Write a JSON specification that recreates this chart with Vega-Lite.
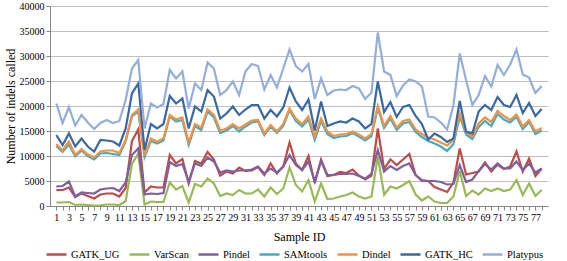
{
"$schema": "https://vega.github.io/schema/vega-lite/v6.json",
"width": 498, "height": 200,
"autosize": {"type": "none"},
"padding": {"left": 50, "top": 6, "right": 19, "bottom": 55},
"background": "white",
"config": {"font": "Liberation Serif, DejaVu Serif, serif", "view": {"stroke": null}},
"data": {"values": [
{"id":1,"tool":"GATK_UG","count":3200},{"id":2,"tool":"GATK_UG","count":3200},{"id":3,"tool":"GATK_UG","count":3700},{"id":4,"tool":"GATK_UG","count":1800},{"id":5,"tool":"GATK_UG","count":2500},{"id":6,"tool":"GATK_UG","count":2000},{"id":7,"tool":"GATK_UG","count":1500},{"id":8,"tool":"GATK_UG","count":2300},{"id":9,"tool":"GATK_UG","count":2500},{"id":10,"tool":"GATK_UG","count":2500},
{"id":11,"tool":"GATK_UG","count":1900},{"id":12,"tool":"GATK_UG","count":3600},{"id":13,"tool":"GATK_UG","count":13000},{"id":14,"tool":"GATK_UG","count":15300},{"id":15,"tool":"GATK_UG","count":2700},{"id":16,"tool":"GATK_UG","count":3900},{"id":17,"tool":"GATK_UG","count":3700},{"id":18,"tool":"GATK_UG","count":3700},{"id":19,"tool":"GATK_UG","count":10200},{"id":20,"tool":"GATK_UG","count":8500},
{"id":21,"tool":"GATK_UG","count":9400},{"id":22,"tool":"GATK_UG","count":4500},{"id":23,"tool":"GATK_UG","count":9000},{"id":24,"tool":"GATK_UG","count":8500},{"id":25,"tool":"GATK_UG","count":10800},{"id":26,"tool":"GATK_UG","count":9300},{"id":27,"tool":"GATK_UG","count":6100},{"id":28,"tool":"GATK_UG","count":6900},{"id":29,"tool":"GATK_UG","count":6500},{"id":30,"tool":"GATK_UG","count":7700},
{"id":31,"tool":"GATK_UG","count":7000},{"id":32,"tool":"GATK_UG","count":7100},{"id":33,"tool":"GATK_UG","count":7800},{"id":34,"tool":"GATK_UG","count":6200},{"id":35,"tool":"GATK_UG","count":8500},{"id":36,"tool":"GATK_UG","count":6500},{"id":37,"tool":"GATK_UG","count":7900},{"id":38,"tool":"GATK_UG","count":12700},{"id":39,"tool":"GATK_UG","count":8500},{"id":40,"tool":"GATK_UG","count":7200},
{"id":41,"tool":"GATK_UG","count":10000},{"id":42,"tool":"GATK_UG","count":4600},{"id":43,"tool":"GATK_UG","count":9300},{"id":44,"tool":"GATK_UG","count":6000},{"id":45,"tool":"GATK_UG","count":6200},{"id":46,"tool":"GATK_UG","count":6800},{"id":47,"tool":"GATK_UG","count":6600},{"id":48,"tool":"GATK_UG","count":7300},{"id":49,"tool":"GATK_UG","count":6100},{"id":50,"tool":"GATK_UG","count":5300},
{"id":51,"tool":"GATK_UG","count":6100},{"id":52,"tool":"GATK_UG","count":15500},{"id":53,"tool":"GATK_UG","count":7400},{"id":54,"tool":"GATK_UG","count":9300},{"id":55,"tool":"GATK_UG","count":8200},{"id":56,"tool":"GATK_UG","count":9300},{"id":57,"tool":"GATK_UG","count":10400},{"id":58,"tool":"GATK_UG","count":6200},{"id":59,"tool":"GATK_UG","count":5000},{"id":60,"tool":"GATK_UG","count":5000},
{"id":61,"tool":"GATK_UG","count":3800},{"id":62,"tool":"GATK_UG","count":3300},{"id":63,"tool":"GATK_UG","count":2800},{"id":64,"tool":"GATK_UG","count":4700},{"id":65,"tool":"GATK_UG","count":11500},{"id":66,"tool":"GATK_UG","count":6300},{"id":67,"tool":"GATK_UG","count":6600},{"id":68,"tool":"GATK_UG","count":6900},{"id":69,"tool":"GATK_UG","count":8700},{"id":70,"tool":"GATK_UG","count":6900},
{"id":71,"tool":"GATK_UG","count":8300},{"id":72,"tool":"GATK_UG","count":7400},{"id":73,"tool":"GATK_UG","count":7900},{"id":74,"tool":"GATK_UG","count":10900},{"id":75,"tool":"GATK_UG","count":6900},{"id":76,"tool":"GATK_UG","count":9500},{"id":77,"tool":"GATK_UG","count":6000},{"id":78,"tool":"GATK_UG","count":7500},
{"id":1,"tool":"VarScan","count":700},{"id":2,"tool":"VarScan","count":700},{"id":3,"tool":"VarScan","count":800},{"id":4,"tool":"VarScan","count":200},{"id":5,"tool":"VarScan","count":300},{"id":6,"tool":"VarScan","count":200},{"id":7,"tool":"VarScan","count":100},{"id":8,"tool":"VarScan","count":150},{"id":9,"tool":"VarScan","count":300},{"id":10,"tool":"VarScan","count":300},
{"id":11,"tool":"VarScan","count":200},{"id":12,"tool":"VarScan","count":1000},{"id":13,"tool":"VarScan","count":8400},{"id":14,"tool":"VarScan","count":10500},{"id":15,"tool":"VarScan","count":300},{"id":16,"tool":"VarScan","count":900},{"id":17,"tool":"VarScan","count":800},{"id":18,"tool":"VarScan","count":800},{"id":19,"tool":"VarScan","count":4700},{"id":20,"tool":"VarScan","count":3300},
{"id":21,"tool":"VarScan","count":4000},{"id":22,"tool":"VarScan","count":700},{"id":23,"tool":"VarScan","count":4400},{"id":24,"tool":"VarScan","count":3900},{"id":25,"tool":"VarScan","count":5500},{"id":26,"tool":"VarScan","count":4500},{"id":27,"tool":"VarScan","count":2000},{"id":28,"tool":"VarScan","count":2500},{"id":29,"tool":"VarScan","count":2200},{"id":30,"tool":"VarScan","count":3200},
{"id":31,"tool":"VarScan","count":2500},{"id":32,"tool":"VarScan","count":2500},{"id":33,"tool":"VarScan","count":3300},{"id":34,"tool":"VarScan","count":1900},{"id":35,"tool":"VarScan","count":3700},{"id":36,"tool":"VarScan","count":2400},{"id":37,"tool":"VarScan","count":3500},{"id":38,"tool":"VarScan","count":7700},{"id":39,"tool":"VarScan","count":4200},{"id":40,"tool":"VarScan","count":2900},
{"id":41,"tool":"VarScan","count":5200},{"id":42,"tool":"VarScan","count":900},{"id":43,"tool":"VarScan","count":4500},{"id":44,"tool":"VarScan","count":1400},{"id":45,"tool":"VarScan","count":1500},{"id":46,"tool":"VarScan","count":1900},{"id":47,"tool":"VarScan","count":2200},{"id":48,"tool":"VarScan","count":2700},{"id":49,"tool":"VarScan","count":1900},{"id":50,"tool":"VarScan","count":1500},
{"id":51,"tool":"VarScan","count":1900},{"id":52,"tool":"VarScan","count":9900},{"id":53,"tool":"VarScan","count":2300},{"id":54,"tool":"VarScan","count":3900},{"id":55,"tool":"VarScan","count":3500},{"id":56,"tool":"VarScan","count":4200},{"id":57,"tool":"VarScan","count":5000},{"id":58,"tool":"VarScan","count":2300},{"id":59,"tool":"VarScan","count":1100},{"id":60,"tool":"VarScan","count":1900},
{"id":61,"tool":"VarScan","count":900},{"id":62,"tool":"VarScan","count":600},{"id":63,"tool":"VarScan","count":600},{"id":64,"tool":"VarScan","count":1900},{"id":65,"tool":"VarScan","count":7000},{"id":66,"tool":"VarScan","count":2000},{"id":67,"tool":"VarScan","count":3100},{"id":68,"tool":"VarScan","count":2300},{"id":69,"tool":"VarScan","count":3500},{"id":70,"tool":"VarScan","count":3000},
{"id":71,"tool":"VarScan","count":3500},{"id":72,"tool":"VarScan","count":3000},{"id":73,"tool":"VarScan","count":3300},{"id":74,"tool":"VarScan","count":5200},{"id":75,"tool":"VarScan","count":2200},{"id":76,"tool":"VarScan","count":4500},{"id":77,"tool":"VarScan","count":2000},{"id":78,"tool":"VarScan","count":3200},
{"id":1,"tool":"Pindel","count":3900},{"id":2,"tool":"Pindel","count":4000},{"id":3,"tool":"Pindel","count":4900},{"id":4,"tool":"Pindel","count":1900},{"id":5,"tool":"Pindel","count":2700},{"id":6,"tool":"Pindel","count":2600},{"id":7,"tool":"Pindel","count":2500},{"id":8,"tool":"Pindel","count":3300},{"id":9,"tool":"Pindel","count":3500},{"id":10,"tool":"Pindel","count":3600},
{"id":11,"tool":"Pindel","count":3000},{"id":12,"tool":"Pindel","count":4700},{"id":13,"tool":"Pindel","count":10200},{"id":14,"tool":"Pindel","count":11500},{"id":15,"tool":"Pindel","count":2300},{"id":16,"tool":"Pindel","count":2500},{"id":17,"tool":"Pindel","count":2400},{"id":18,"tool":"Pindel","count":2600},{"id":19,"tool":"Pindel","count":8800},{"id":20,"tool":"Pindel","count":8000},
{"id":21,"tool":"Pindel","count":8400},{"id":22,"tool":"Pindel","count":4900},{"id":23,"tool":"Pindel","count":8500},{"id":24,"tool":"Pindel","count":8000},{"id":25,"tool":"Pindel","count":9700},{"id":26,"tool":"Pindel","count":8900},{"id":27,"tool":"Pindel","count":6700},{"id":28,"tool":"Pindel","count":7100},{"id":29,"tool":"Pindel","count":6900},{"id":30,"tool":"Pindel","count":7100},
{"id":31,"tool":"Pindel","count":7100},{"id":32,"tool":"Pindel","count":7300},{"id":33,"tool":"Pindel","count":7900},{"id":34,"tool":"Pindel","count":6500},{"id":35,"tool":"Pindel","count":7500},{"id":36,"tool":"Pindel","count":6700},{"id":37,"tool":"Pindel","count":7900},{"id":38,"tool":"Pindel","count":10200},{"id":39,"tool":"Pindel","count":8200},{"id":40,"tool":"Pindel","count":7200},
{"id":41,"tool":"Pindel","count":8900},{"id":42,"tool":"Pindel","count":4900},{"id":43,"tool":"Pindel","count":9000},{"id":44,"tool":"Pindel","count":6200},{"id":45,"tool":"Pindel","count":6200},{"id":46,"tool":"Pindel","count":6400},{"id":47,"tool":"Pindel","count":6400},{"id":48,"tool":"Pindel","count":6500},{"id":49,"tool":"Pindel","count":6000},{"id":50,"tool":"Pindel","count":5500},
{"id":51,"tool":"Pindel","count":6500},{"id":52,"tool":"Pindel","count":11200},{"id":53,"tool":"Pindel","count":6900},{"id":54,"tool":"Pindel","count":8000},{"id":55,"tool":"Pindel","count":7200},{"id":56,"tool":"Pindel","count":8000},{"id":57,"tool":"Pindel","count":8500},{"id":58,"tool":"Pindel","count":6200},{"id":59,"tool":"Pindel","count":5200},{"id":60,"tool":"Pindel","count":5000},
{"id":61,"tool":"Pindel","count":5000},{"id":62,"tool":"Pindel","count":4800},{"id":63,"tool":"Pindel","count":4300},{"id":64,"tool":"Pindel","count":4400},{"id":65,"tool":"Pindel","count":8200},{"id":66,"tool":"Pindel","count":4800},{"id":67,"tool":"Pindel","count":5300},{"id":68,"tool":"Pindel","count":7000},{"id":69,"tool":"Pindel","count":8400},{"id":70,"tool":"Pindel","count":7300},
{"id":71,"tool":"Pindel","count":8500},{"id":72,"tool":"Pindel","count":7500},{"id":73,"tool":"Pindel","count":7500},{"id":74,"tool":"Pindel","count":8900},{"id":75,"tool":"Pindel","count":7200},{"id":76,"tool":"Pindel","count":8500},{"id":77,"tool":"Pindel","count":6700},{"id":78,"tool":"Pindel","count":7500},
{"id":1,"tool":"SAMtools","count":12000},{"id":2,"tool":"SAMtools","count":10800},{"id":3,"tool":"SAMtools","count":12300},{"id":4,"tool":"SAMtools","count":9900},{"id":5,"tool":"SAMtools","count":11100},{"id":6,"tool":"SAMtools","count":10000},{"id":7,"tool":"SAMtools","count":9300},{"id":8,"tool":"SAMtools","count":10500},{"id":9,"tool":"SAMtools","count":10600},{"id":10,"tool":"SAMtools","count":10400},
{"id":11,"tool":"SAMtools","count":10200},{"id":12,"tool":"SAMtools","count":12900},{"id":13,"tool":"SAMtools","count":17900},{"id":14,"tool":"SAMtools","count":18900},{"id":15,"tool":"SAMtools","count":9800},{"id":16,"tool":"SAMtools","count":13000},{"id":17,"tool":"SAMtools","count":12500},{"id":18,"tool":"SAMtools","count":13100},{"id":19,"tool":"SAMtools","count":17900},{"id":20,"tool":"SAMtools","count":16900},
{"id":21,"tool":"SAMtools","count":17200},{"id":22,"tool":"SAMtools","count":12200},{"id":23,"tool":"SAMtools","count":16000},{"id":24,"tool":"SAMtools","count":15200},{"id":25,"tool":"SAMtools","count":18900},{"id":26,"tool":"SAMtools","count":17700},{"id":27,"tool":"SAMtools","count":14600},{"id":28,"tool":"SAMtools","count":15100},{"id":29,"tool":"SAMtools","count":16000},{"id":30,"tool":"SAMtools","count":14900},
{"id":31,"tool":"SAMtools","count":15900},{"id":32,"tool":"SAMtools","count":16700},{"id":33,"tool":"SAMtools","count":16900},{"id":34,"tool":"SAMtools","count":14200},{"id":35,"tool":"SAMtools","count":15900},{"id":36,"tool":"SAMtools","count":14600},{"id":37,"tool":"SAMtools","count":16000},{"id":38,"tool":"SAMtools","count":19200},{"id":39,"tool":"SAMtools","count":17000},{"id":40,"tool":"SAMtools","count":15900},
{"id":41,"tool":"SAMtools","count":17300},{"id":42,"tool":"SAMtools","count":13200},{"id":43,"tool":"SAMtools","count":17000},{"id":44,"tool":"SAMtools","count":14400},{"id":45,"tool":"SAMtools","count":13600},{"id":46,"tool":"SAMtools","count":13900},{"id":47,"tool":"SAMtools","count":14000},{"id":48,"tool":"SAMtools","count":14600},{"id":49,"tool":"SAMtools","count":13900},{"id":50,"tool":"SAMtools","count":13100},
{"id":51,"tool":"SAMtools","count":14000},{"id":52,"tool":"SAMtools","count":19600},{"id":53,"tool":"SAMtools","count":15600},{"id":54,"tool":"SAMtools","count":17500},{"id":55,"tool":"SAMtools","count":15200},{"id":56,"tool":"SAMtools","count":16500},{"id":57,"tool":"SAMtools","count":16800},{"id":58,"tool":"SAMtools","count":14800},{"id":59,"tool":"SAMtools","count":13800},{"id":60,"tool":"SAMtools","count":13000},
{"id":61,"tool":"SAMtools","count":12500},{"id":62,"tool":"SAMtools","count":11900},{"id":63,"tool":"SAMtools","count":11000},{"id":64,"tool":"SAMtools","count":12400},{"id":65,"tool":"SAMtools","count":17900},{"id":66,"tool":"SAMtools","count":14300},{"id":67,"tool":"SAMtools","count":13400},{"id":68,"tool":"SAMtools","count":15800},{"id":69,"tool":"SAMtools","count":17000},{"id":70,"tool":"SAMtools","count":16000},
{"id":71,"tool":"SAMtools","count":18400},{"id":72,"tool":"SAMtools","count":17300},{"id":73,"tool":"SAMtools","count":16700},{"id":74,"tool":"SAMtools","count":17800},{"id":75,"tool":"SAMtools","count":15400},{"id":76,"tool":"SAMtools","count":16800},{"id":77,"tool":"SAMtools","count":14400},{"id":78,"tool":"SAMtools","count":15100},
{"id":1,"tool":"Dindel","count":12400},{"id":2,"tool":"Dindel","count":11100},{"id":3,"tool":"Dindel","count":12900},{"id":4,"tool":"Dindel","count":10200},{"id":5,"tool":"Dindel","count":11400},{"id":6,"tool":"Dindel","count":10300},{"id":7,"tool":"Dindel","count":9700},{"id":8,"tool":"Dindel","count":10900},{"id":9,"tool":"Dindel","count":11100},{"id":10,"tool":"Dindel","count":11100},
{"id":11,"tool":"Dindel","count":10600},{"id":12,"tool":"Dindel","count":13200},{"id":13,"tool":"Dindel","count":18200},{"id":14,"tool":"Dindel","count":19300},{"id":15,"tool":"Dindel","count":10200},{"id":16,"tool":"Dindel","count":13500},{"id":17,"tool":"Dindel","count":12900},{"id":18,"tool":"Dindel","count":13500},{"id":19,"tool":"Dindel","count":18200},{"id":20,"tool":"Dindel","count":17300},
{"id":21,"tool":"Dindel","count":17700},{"id":22,"tool":"Dindel","count":12700},{"id":23,"tool":"Dindel","count":16400},{"id":24,"tool":"Dindel","count":15700},{"id":25,"tool":"Dindel","count":19300},{"id":26,"tool":"Dindel","count":18200},{"id":27,"tool":"Dindel","count":15100},{"id":28,"tool":"Dindel","count":15500},{"id":29,"tool":"Dindel","count":16400},{"id":30,"tool":"Dindel","count":15500},
{"id":31,"tool":"Dindel","count":16300},{"id":32,"tool":"Dindel","count":17100},{"id":33,"tool":"Dindel","count":17200},{"id":34,"tool":"Dindel","count":14500},{"id":35,"tool":"Dindel","count":16200},{"id":36,"tool":"Dindel","count":14900},{"id":37,"tool":"Dindel","count":16400},{"id":38,"tool":"Dindel","count":19500},{"id":39,"tool":"Dindel","count":17500},{"id":40,"tool":"Dindel","count":16400},
{"id":41,"tool":"Dindel","count":17900},{"id":42,"tool":"Dindel","count":13900},{"id":43,"tool":"Dindel","count":17500},{"id":44,"tool":"Dindel","count":14900},{"id":45,"tool":"Dindel","count":14000},{"id":46,"tool":"Dindel","count":14300},{"id":47,"tool":"Dindel","count":14400},{"id":48,"tool":"Dindel","count":14900},{"id":49,"tool":"Dindel","count":14300},{"id":50,"tool":"Dindel","count":13500},
{"id":51,"tool":"Dindel","count":14400},{"id":52,"tool":"Dindel","count":20000},{"id":53,"tool":"Dindel","count":16100},{"id":54,"tool":"Dindel","count":18000},{"id":55,"tool":"Dindel","count":15700},{"id":56,"tool":"Dindel","count":17000},{"id":57,"tool":"Dindel","count":17300},{"id":58,"tool":"Dindel","count":15300},{"id":59,"tool":"Dindel","count":14400},{"id":60,"tool":"Dindel","count":13700},
{"id":61,"tool":"Dindel","count":13300},{"id":62,"tool":"Dindel","count":12700},{"id":63,"tool":"Dindel","count":12100},{"id":64,"tool":"Dindel","count":13200},{"id":65,"tool":"Dindel","count":18500},{"id":66,"tool":"Dindel","count":14800},{"id":67,"tool":"Dindel","count":13900},{"id":68,"tool":"Dindel","count":16500},{"id":69,"tool":"Dindel","count":17700},{"id":70,"tool":"Dindel","count":16800},
{"id":71,"tool":"Dindel","count":19000},{"id":72,"tool":"Dindel","count":18000},{"id":73,"tool":"Dindel","count":17200},{"id":74,"tool":"Dindel","count":18300},{"id":75,"tool":"Dindel","count":15900},{"id":76,"tool":"Dindel","count":17200},{"id":77,"tool":"Dindel","count":14900},{"id":78,"tool":"Dindel","count":15600},
{"id":1,"tool":"GATK_HC","count":14200},{"id":2,"tool":"GATK_HC","count":12200},{"id":3,"tool":"GATK_HC","count":14500},{"id":4,"tool":"GATK_HC","count":11900},{"id":5,"tool":"GATK_HC","count":13500},{"id":6,"tool":"GATK_HC","count":11900},{"id":7,"tool":"GATK_HC","count":10900},{"id":8,"tool":"GATK_HC","count":13200},{"id":9,"tool":"GATK_HC","count":13100},{"id":10,"tool":"GATK_HC","count":12900},
{"id":11,"tool":"GATK_HC","count":12100},{"id":12,"tool":"GATK_HC","count":15500},{"id":13,"tool":"GATK_HC","count":22500},{"id":14,"tool":"GATK_HC","count":24500},{"id":15,"tool":"GATK_HC","count":11200},{"id":16,"tool":"GATK_HC","count":16400},{"id":17,"tool":"GATK_HC","count":15500},{"id":18,"tool":"GATK_HC","count":16400},{"id":19,"tool":"GATK_HC","count":22000},{"id":20,"tool":"GATK_HC","count":20500},
{"id":21,"tool":"GATK_HC","count":21500},{"id":22,"tool":"GATK_HC","count":15500},{"id":23,"tool":"GATK_HC","count":19900},{"id":24,"tool":"GATK_HC","count":18900},{"id":25,"tool":"GATK_HC","count":23200},{"id":26,"tool":"GATK_HC","count":21900},{"id":27,"tool":"GATK_HC","count":17500},{"id":28,"tool":"GATK_HC","count":18500},{"id":29,"tool":"GATK_HC","count":19900},{"id":30,"tool":"GATK_HC","count":18200},
{"id":31,"tool":"GATK_HC","count":19300},{"id":32,"tool":"GATK_HC","count":20200},{"id":33,"tool":"GATK_HC","count":20200},{"id":34,"tool":"GATK_HC","count":17500},{"id":35,"tool":"GATK_HC","count":19200},{"id":36,"tool":"GATK_HC","count":17900},{"id":37,"tool":"GATK_HC","count":19700},{"id":38,"tool":"GATK_HC","count":23700},{"id":39,"tool":"GATK_HC","count":20900},{"id":40,"tool":"GATK_HC","count":19200},
{"id":41,"tool":"GATK_HC","count":21300},{"id":42,"tool":"GATK_HC","count":15100},{"id":43,"tool":"GATK_HC","count":20900},{"id":44,"tool":"GATK_HC","count":16000},{"id":45,"tool":"GATK_HC","count":16500},{"id":46,"tool":"GATK_HC","count":16900},{"id":47,"tool":"GATK_HC","count":16700},{"id":48,"tool":"GATK_HC","count":17500},{"id":49,"tool":"GATK_HC","count":16900},{"id":50,"tool":"GATK_HC","count":15500},
{"id":51,"tool":"GATK_HC","count":16400},{"id":52,"tool":"GATK_HC","count":24900},{"id":53,"tool":"GATK_HC","count":18800},{"id":54,"tool":"GATK_HC","count":20800},{"id":55,"tool":"GATK_HC","count":17800},{"id":56,"tool":"GATK_HC","count":19800},{"id":57,"tool":"GATK_HC","count":20200},{"id":58,"tool":"GATK_HC","count":18000},{"id":59,"tool":"GATK_HC","count":16400},{"id":60,"tool":"GATK_HC","count":13300},
{"id":61,"tool":"GATK_HC","count":14500},{"id":62,"tool":"GATK_HC","count":13800},{"id":63,"tool":"GATK_HC","count":12800},{"id":64,"tool":"GATK_HC","count":13500},{"id":65,"tool":"GATK_HC","count":21000},{"id":66,"tool":"GATK_HC","count":14900},{"id":67,"tool":"GATK_HC","count":14500},{"id":68,"tool":"GATK_HC","count":18900},{"id":69,"tool":"GATK_HC","count":20200},{"id":70,"tool":"GATK_HC","count":19200},
{"id":71,"tool":"GATK_HC","count":21800},{"id":72,"tool":"GATK_HC","count":20200},{"id":73,"tool":"GATK_HC","count":19800},{"id":74,"tool":"GATK_HC","count":22200},{"id":75,"tool":"GATK_HC","count":18600},{"id":76,"tool":"GATK_HC","count":20600},{"id":77,"tool":"GATK_HC","count":18000},{"id":78,"tool":"GATK_HC","count":19400},
{"id":1,"tool":"Platypus","count":20500},{"id":2,"tool":"Platypus","count":16600},{"id":3,"tool":"Platypus","count":19800},{"id":4,"tool":"Platypus","count":16100},{"id":5,"tool":"Platypus","count":18200},{"id":6,"tool":"Platypus","count":16700},{"id":7,"tool":"Platypus","count":15400},{"id":8,"tool":"Platypus","count":16600},{"id":9,"tool":"Platypus","count":17200},{"id":10,"tool":"Platypus","count":16600},
{"id":11,"tool":"Platypus","count":17000},{"id":12,"tool":"Platypus","count":21200},{"id":13,"tool":"Platypus","count":27500},{"id":14,"tool":"Platypus","count":29200},{"id":15,"tool":"Platypus","count":15500},{"id":16,"tool":"Platypus","count":20500},{"id":17,"tool":"Platypus","count":19700},{"id":18,"tool":"Platypus","count":20400},{"id":19,"tool":"Platypus","count":27200},{"id":20,"tool":"Platypus","count":25500},
{"id":21,"tool":"Platypus","count":26900},{"id":22,"tool":"Platypus","count":19500},{"id":23,"tool":"Platypus","count":24500},{"id":24,"tool":"Platypus","count":23200},{"id":25,"tool":"Platypus","count":28700},{"id":26,"tool":"Platypus","count":27500},{"id":27,"tool":"Platypus","count":22200},{"id":28,"tool":"Platypus","count":23200},{"id":29,"tool":"Platypus","count":24900},{"id":30,"tool":"Platypus","count":22200},
{"id":31,"tool":"Platypus","count":26900},{"id":32,"tool":"Platypus","count":28400},{"id":33,"tool":"Platypus","count":28000},{"id":34,"tool":"Platypus","count":23300},{"id":35,"tool":"Platypus","count":26200},{"id":36,"tool":"Platypus","count":23700},{"id":37,"tool":"Platypus","count":27500},{"id":38,"tool":"Platypus","count":31300},{"id":39,"tool":"Platypus","count":28000},{"id":40,"tool":"Platypus","count":26900},
{"id":41,"tool":"Platypus","count":28400},{"id":42,"tool":"Platypus","count":21400},{"id":43,"tool":"Platypus","count":25500},{"id":44,"tool":"Platypus","count":22200},{"id":45,"tool":"Platypus","count":23100},{"id":46,"tool":"Platypus","count":23300},{"id":47,"tool":"Platypus","count":23200},{"id":48,"tool":"Platypus","count":24000},{"id":49,"tool":"Platypus","count":23500},{"id":50,"tool":"Platypus","count":21400},
{"id":51,"tool":"Platypus","count":22700},{"id":52,"tool":"Platypus","count":34700},{"id":53,"tool":"Platypus","count":26900},{"id":54,"tool":"Platypus","count":26200},{"id":55,"tool":"Platypus","count":22000},{"id":56,"tool":"Platypus","count":24100},{"id":57,"tool":"Platypus","count":25300},{"id":58,"tool":"Platypus","count":24900},{"id":59,"tool":"Platypus","count":23900},{"id":60,"tool":"Platypus","count":17900},
{"id":61,"tool":"Platypus","count":17700},{"id":62,"tool":"Platypus","count":16700},{"id":63,"tool":"Platypus","count":15300},{"id":64,"tool":"Platypus","count":20200},{"id":65,"tool":"Platypus","count":30500},{"id":66,"tool":"Platypus","count":25200},{"id":67,"tool":"Platypus","count":20200},{"id":68,"tool":"Platypus","count":22200},{"id":69,"tool":"Platypus","count":26000},{"id":70,"tool":"Platypus","count":23900},
{"id":71,"tool":"Platypus","count":28200},{"id":72,"tool":"Platypus","count":26200},{"id":73,"tool":"Platypus","count":28300},{"id":74,"tool":"Platypus","count":31300},{"id":75,"tool":"Platypus","count":26300},{"id":76,"tool":"Platypus","count":25700},{"id":77,"tool":"Platypus","count":22600},{"id":78,"tool":"Platypus","count":24000}
]},
"mark": {"type": "line", "strokeWidth": 2.2},
"encoding": {
"x": {"field": "id", "type": "ordinal", "scale": {"type": "point", "padding": 1.6},
 "axis": {"title": "Sample ID", "labelExpr": "datum.value % 2 == 1 ? datum.label : ''", "labelAngle": 0, "labelOverlap": false, "labelFont": "Liberation Serif", "labelFontSize": 10, "labelColor": "#000000", "labelPadding": 2, "tickColor": "#868686", "tickSize": 4, "domainColor": "#868686", "grid": false, "titleFont": "Liberation Serif", "titleFontSize": 12, "titleFontWeight": "normal", "titleColor": "#000000", "titlePadding": 9}},
"y": {"field": "count", "type": "quantitative", "scale": {"domain": [0, 40000], "nice": false},
 "axis": {"title": "Number of indels called", "values": [0,5000,10000,15000,20000,25000,30000,35000,40000], "format": "d", "labelFont": "Liberation Serif", "labelFontSize": 10, "labelColor": "#000000", "labelPadding": 2, "grid": true, "gridColor": "#BFBFBF", "domainColor": "#868686", "tickColor": "#868686", "tickSize": 4, "titleFont": "Liberation Serif", "titleFontSize": 12, "titleFontWeight": "normal", "titleColor": "#000000", "titlePadding": 2}},
"color": {"field": "tool", "type": "nominal",
 "scale": {"domain": ["GATK_UG","VarScan","Pindel","SAMtools","Dindel","GATK_HC","Platypus"], "range": ["#BE4B48","#98B954","#7D60A0","#46AAC5","#F59240","#3868A6","#93AEDB"]},
 "legend": {"orient": "none", "legendX": -5, "legendY": 237, "direction": "horizontal", "columns": 7, "title": null, "symbolType": "stroke", "symbolStrokeWidth": 2.5, "symbolSize": 400, "labelFont": "Liberation Serif", "labelFontSize": 10.5, "labelColor": "#000000", "columnPadding": 4, "labelOffset": 3}}
}
}
